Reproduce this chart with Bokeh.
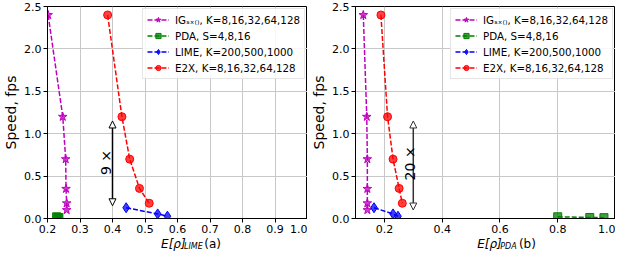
from bokeh.plotting import figure
from bokeh.layouts import row, column
from bokeh.models import Range1d, FixedTicker, Label, Arrow, NormalHead, PrintfTickFormatter
from bokeh.core.properties import value
from bokeh.embed import file_html
from bokeh.resources import INLINE

# ---- data ----
method_labels = ["IGₛₓ₍₎, K=8,16,32,64,128", "PDA, S=4,8,16",
                 "LIME, K=200,500,1000", "E2X, K=8,16,32,64,128"]

speed_ig = [2.4, 1.2, 0.7, 0.35, 0.18, 0.1]
speed_pda = [0.02, 0.012, 0.01]
speed_lime = [0.127, 0.054, 0.027]
speed_e2x = [2.4, 1.2, 0.7, 0.355, 0.18]

# panel (a): E[rho]_LIME
ig_a = [0.202, 0.247, 0.256, 0.257, 0.259, 0.259]
pda_a = [0.228, 0.232, 0.235]
lime_a = [0.442, 0.539, 0.569]
e2x_a = [0.385, 0.429, 0.453, 0.483, 0.513]

# panel (b): E[rho]_PDA
ig_b = [0.127, 0.139, 0.141, 0.141, 0.141, 0.141]
pda_b = [0.80, 0.911, 0.96]
lime_b = [0.164, 0.230, 0.247]
e2x_b = [0.188, 0.211, 0.230, 0.251, 0.262]

xticks_a = [0.2, 0.3, 0.4, 0.5, 0.6, 0.7, 0.8, 0.9, 1.0]
xticks_b = [0.2, 0.4, 0.6, 0.8, 1.0]
yticks = [0.0, 0.5, 1.0, 1.5, 2.0, 2.5]

arrow_a = dict(x=0.40, top=1.15, bottom=0.15, text="9 ×", tx=0.381, ty=0.66)
arrow_b = dict(x=0.30, top=1.15, bottom=0.10, text="20 ×", tx=0.288, ty=0.65)

FONT = "DejaVu Sans"
colors = ["#bf00bf", "#008000", "#0000ff", "#ff0000"]
markers = ["star", "square", "diamond", "circle"]
msizes = [9, 8, 10, 8]

FH = 212         # frame height


def panel(bl, fw, xr, xticks, series, arr, arr_color):
    p = figure(frame_width=fw, frame_height=FH, x_range=Range1d(*xr), y_range=Range1d(0, 2.5),
               output_backend="svg", toolbar_location=None,
               min_border_left=bl, min_border_right=0, min_border_top=6,
               min_border_bottom=18)
    p.outline_line_color = "black"
    p.outline_line_width = 1
    for ax in (p.xaxis[0], p.yaxis[0]):
        ax.major_label_text_font = FONT
        ax.major_label_text_font_size = "11px"
        ax.major_label_text_color = "black"
        ax.minor_tick_line_color = None
        ax.major_tick_out = 4
        ax.major_tick_in = 0
        ax.major_label_standoff = 2
        ax.axis_line_color = "black"
        ax.major_tick_line_color = "black"
    p.xaxis.ticker = FixedTicker(ticks=xticks)
    p.yaxis.ticker = FixedTicker(ticks=yticks)
    p.xaxis.formatter = PrintfTickFormatter(format="%.1f")
    p.yaxis.formatter = PrintfTickFormatter(format="%.1f")
    p.yaxis.axis_label = "Speed, fps"
    p.yaxis.axis_label_text_font = FONT
    p.yaxis.axis_label_text_font_style = "normal"
    p.yaxis.axis_label_text_font_size = "14px"
    p.yaxis.axis_label_text_color = "black"
    p.yaxis.axis_label_standoff = 2
    p.grid.grid_line_color = "#c8c8c8"
    p.grid.grid_line_width = 1

    for (xs, ys), lab, c, m, s in zip(series, method_labels, colors, markers, msizes):
        p.line(xs, ys, line_color=c, line_width=1.5, line_dash="5 2", legend_label=lab)
        p.scatter(xs, ys, marker=m, size=s, fill_color=c, fill_alpha=0.75,
                  line_color=c, legend_label=lab)

    p.legend.location = "top_right"
    p.legend.margin = 2
    p.legend.padding = 4
    p.legend.spacing = 3
    p.legend.label_height = 13
    p.legend.glyph_height = 13
    p.legend.glyph_width = 22
    p.legend.label_standoff = 6
    p.legend.label_text_font = FONT
    p.legend.label_text_font_size = "10.3px"
    p.legend.label_text_color = "black"
    p.legend.border_line_color = "#cccccc"
    p.legend.background_fill_alpha = 0.85

    head = dict(size=7, fill_color="white", line_color=arr_color, line_width=1)
    p.add_layout(Arrow(x_start=arr["x"], y_start=arr["bottom"], x_end=arr["x"], y_end=arr["top"],
                       start=NormalHead(**head), end=NormalHead(**head),
                       line_color=arr_color, line_width=1.5))
    p.add_layout(Label(x=arr["tx"], y=arr["ty"], text=arr["text"], angle=1.5708,
                       text_align="center", text_baseline="middle",
                       text_font=FONT, text_font_size="14px", text_color="black"))
    return p


def xlabel_strip(bl, fw, total_w, sub, tag, sub_w):
    s = figure(width=total_w, height=20, x_range=Range1d(0, total_w), y_range=Range1d(0, 20),
               output_backend="svg", toolbar_location=None, min_border=0,
               x_axis_location=None, y_axis_location=None)
    s.outline_line_color = None
    s.grid.visible = False
    cx = bl + fw / 2
    w_e = 27
    gap = 5
    w_tag = 17
    x0 = cx - (w_e + sub_w + gap + w_tag) / 2
    s.text(x=[x0], y=[13], text=["E[ρ]"], text_font=value(FONT), text_font_style="italic",
           text_font_size="12px", text_baseline="middle", text_align="left", text_color="black")
    s.text(x=[x0 + w_e], y=[10], text=[sub], text_font=value(FONT), text_font_style="italic",
           text_font_size="8px", text_baseline="middle", text_align="left", text_color="black")
    s.text(x=[x0 + w_e + sub_w + gap], y=[13], text=[tag], text_font=value(FONT),
           text_font_size="12px", text_baseline="middle", text_align="left", text_color="black")
    return s


BL_A, FW_A = 38, 260
BL_B, FW_B = 46, 260
pa = panel(BL_A, FW_A, (0.2, 1.0), xticks_a,
           [(ig_a, speed_ig), (pda_a, speed_pda), (lime_a, speed_lime), (e2x_a, speed_e2x)],
           arrow_a, "black")
pb = panel(BL_B, FW_B, (0.1, 1.0), xticks_b,
           [(ig_b, speed_ig), (pda_b, speed_pda), (lime_b, speed_lime), (e2x_b, speed_e2x)],
           arrow_b, "#333333")

la = xlabel_strip(BL_A, FW_A, BL_A + FW_A + 10, "LIME", "(a)", 19)
lb = xlabel_strip(BL_B, FW_B, BL_B + FW_B + 10, "PDA", "(b)", 17)

layout = row(column(pa, la), column(pb, lb))
open("out.html", "w").write(file_html(layout, INLINE))
